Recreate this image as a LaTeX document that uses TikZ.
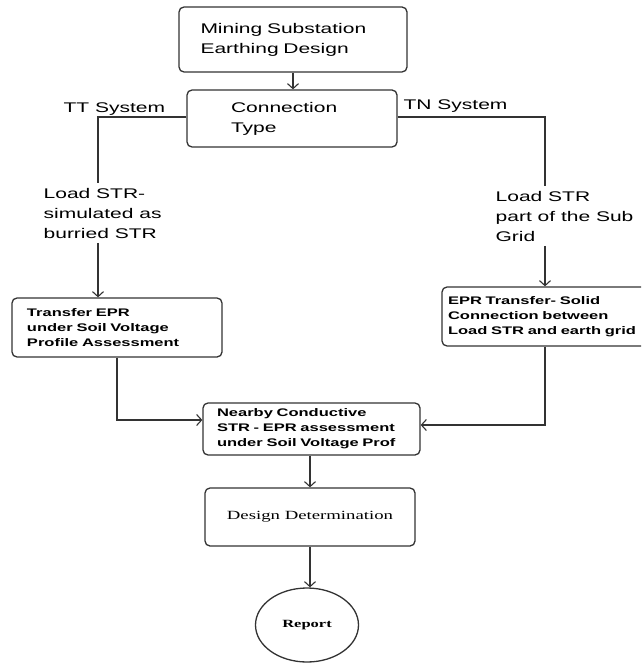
\documentclass[tikz,border=0pt]{standalone}
\usepackage{fontspec}
\setmainfont{Liberation Sans}[FakeStretch=1.5]
\newfontfamily\serifwide{Liberation Serif}[FakeStretch=1.5]
\usetikzlibrary{arrows.meta,shapes.geometric}

\begin{document}
\begin{tikzpicture}
[ x=1pt, y=-1pt, line width=1.3pt, draw=black!80
, box/.style={rectangle, rounded corners=5pt, draw, line width=1.3pt, align=left, inner sep=0pt}
, bigbox/.style={box, font=\fontsize{14}{20}\selectfont}
, smallbox/.style={box, font=\bfseries\fontsize{11}{15}\selectfont}
, lbl/.style={align=left, inner sep=0pt, font=\fontsize{14}{20}\selectfont}
, endnode/.style={ellipse, draw, line width=1.3pt, minimum width=103pt, minimum height=74pt, font=\serifwide\bfseries\fontsize{11}{13}\selectfont}
, arr/.style={-{Straight Barb[length=5pt, width=11pt, line width=1.1pt]}}
]
\useasboundingbox (0,0) rectangle (641,663);
\clip (0,0) rectangle (641,663);
% Boxes:
\node (design) [bigbox, minimum width=228pt, minimum height=65pt, text width=185pt] at (293,39.5) {Mining Substation\\Earthing Design};
\node (conn) [bigbox, minimum width=210pt, minimum height=57pt, text width=122pt] at (292,118.5) {Connection\\Type};
\node (trans) [smallbox, minimum width=210pt, minimum height=59pt, text width=180pt] at (117,327.5) {Transfer EPR\\under Soil Voltage\\Profile Assessment};
\node (epr) [smallbox, minimum width=220pt, minimum height=59pt, text width=208pt] at (552,316.5) {EPR Transfer- Solid\\Connection between\\Load STR and earth grid};
\node (near) [smallbox, minimum width=217pt, minimum height=52pt, text width=189pt] at (311.5,429) {Nearby Conductive\\STR - EPR assessment\\under Soil Voltage Prof};
\node (det) [box, minimum width=210pt, minimum height=58pt, align=center, font=\serifwide\fontsize{12.5}{15}\selectfont] at (310,517) {Design Determination};
\node (report) [endnode] at (307,625) {Report};
% Labels:
\node (tt) [lbl, anchor=base west] at (63,113) {TT System};
\node (tn) [lbl, anchor=base west] at (403,110) {TN System};
\node (ltxt) [lbl, anchor=west, inner sep=4pt] at (39,213) {Load STR-\\simulated as\\burried STR};
\node (rtxt) [lbl, anchor=west, inner sep=4pt] at (491,216) {Load STR\\part of the Sub\\Grid};
\coordinate (ttcorner) at (98,117);
\coordinate (tncorner) at (545,117);
% Connectors:
\draw [arr] (design.south) -- (design.south |- conn.north);
\draw (conn.west |- ttcorner) -- (ttcorner) -- (ttcorner |- ltxt.north);
\draw [arr] (ttcorner |- ltxt.south) -- (ttcorner |- trans.north);
\draw (conn.east |- tncorner) -- (tncorner) -- (tncorner |- rtxt.north);
\draw [arr] (tncorner |- rtxt.south) -- (tncorner |- epr.north);
\draw [arr] (trans.south) |- ([yshift=9pt]near.west);
\draw [arr] (tncorner |- epr.south) |- ([yshift=4pt]near.east);
\draw [arr] (near.south -| det.north) -- (det.north);
\draw [arr] (det.south) -- (det.south |- report.north);
\end{tikzpicture}
\end{document}
